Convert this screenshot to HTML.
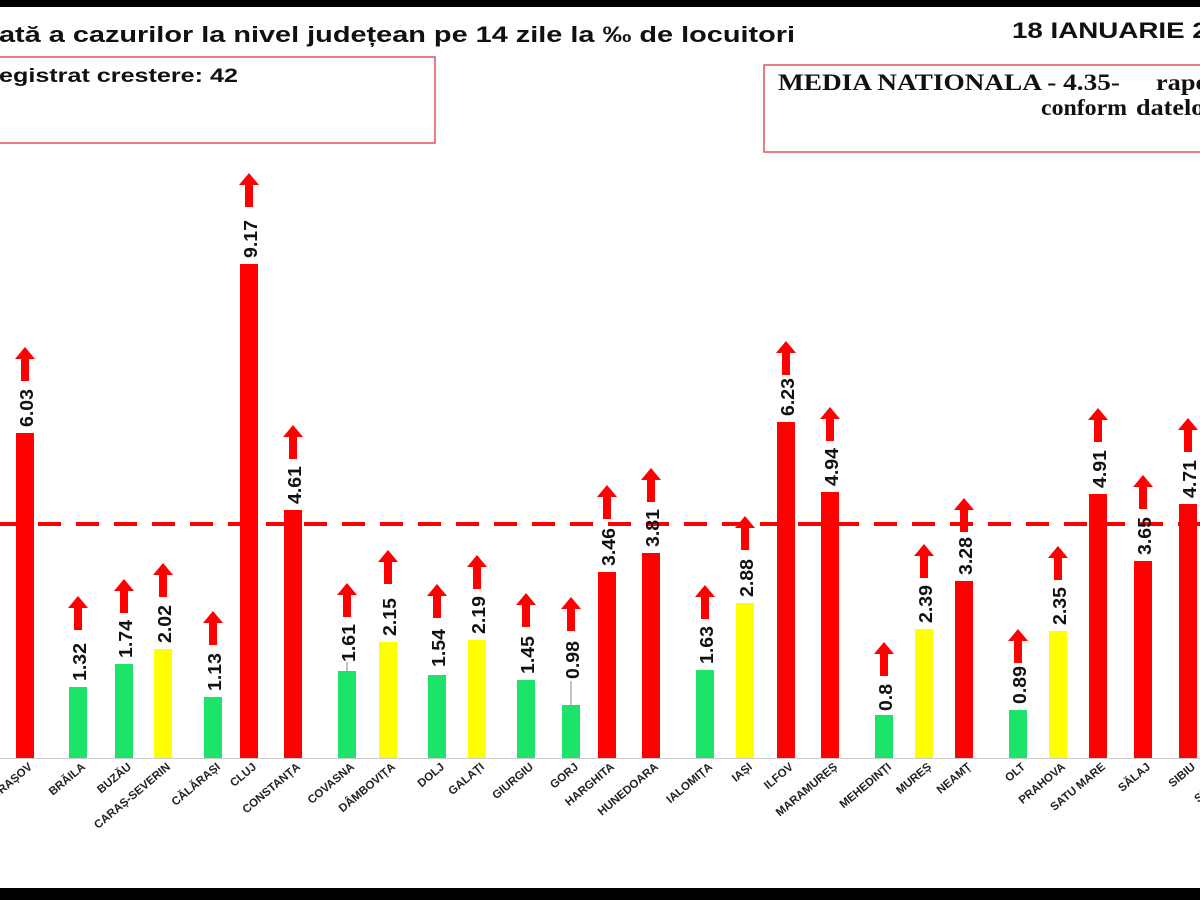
<!DOCTYPE html>
<html><head><meta charset="utf-8"><style>
html,body{margin:0;padding:0;background:#fff;width:1200px;height:900px;overflow:hidden}
svg{display:block}
.v{font-family:"Liberation Sans",sans-serif;font-size:18px;font-weight:bold;fill:#111}
.c{font-family:"Liberation Sans",sans-serif;font-size:11.5px;font-weight:bold;fill:#222}
</style></head><body>
<svg width="1200" height="900" viewBox="0 0 1200 900" xmlns="http://www.w3.org/2000/svg">
<defs><path id="ar" d="M-4,0 V-22 H-10 L0,-34 L10,-22 H4 V0 Z" fill="#f00"/></defs>
<rect x="0" y="0" width="1200" height="7" fill="#000"/>
<rect x="0" y="888" width="1200" height="12" fill="#000"/>
<text x="-1" y="42" font-family="Liberation Sans,sans-serif" font-weight="bold" font-size="22" fill="#111" textLength="796" lengthAdjust="spacingAndGlyphs">ată a cazurilor la nivel județean pe 14 zile la ‰ de locuitori</text>
<text x="1012" y="38" font-family="Liberation Sans,sans-serif" font-weight="bold" font-size="22" fill="#111" textLength="242" lengthAdjust="spacingAndGlyphs">18 IANUARIE 2021</text>
<rect x="-5" y="57" width="440" height="86" fill="none" stroke="#e05060" stroke-width="1.5"/>
<text x="-1" y="82" font-family="Liberation Sans,sans-serif" font-weight="bold" font-size="19" fill="#111" textLength="239" lengthAdjust="spacingAndGlyphs">egistrat crestere: 42</text>
<rect x="764" y="65" width="450" height="87" fill="none" stroke="#e05060" stroke-width="1.5"/>
<text x="778" y="90" font-family="Liberation Serif,serif" font-weight="bold" font-size="23" fill="#111" textLength="342" lengthAdjust="spacingAndGlyphs">MEDIA NATIONALA - 4.35-</text>
<text x="1156" y="90" font-family="Liberation Serif,serif" font-weight="bold" font-size="23" fill="#111" textLength="95" lengthAdjust="spacingAndGlyphs">raportat</text>
<text x="1041" y="115" font-family="Liberation Serif,serif" font-weight="bold" font-size="23" fill="#111" textLength="86" lengthAdjust="spacingAndGlyphs">conform</text>
<text x="1136" y="115" font-family="Liberation Serif,serif" font-weight="bold" font-size="23" fill="#111" textLength="80" lengthAdjust="spacingAndGlyphs">datelor</text>
<line x1="0" y1="758.5" x2="1200" y2="758.5" stroke="#ccc" stroke-width="1"/>

<g>
<rect x="16" y="433" width="18" height="325" fill="#f00"/>
<rect x="69" y="687" width="18" height="71" fill="#1de36a"/>
<rect x="115" y="664" width="18" height="94" fill="#1de36a"/>
<rect x="154" y="649" width="18" height="109" fill="#ff0"/>
<rect x="204" y="697" width="18" height="61" fill="#1de36a"/>
<rect x="240" y="264" width="18" height="494" fill="#f00"/>
<rect x="284" y="510" width="18" height="248" fill="#f00"/>
<rect x="338" y="671" width="18" height="87" fill="#1de36a"/>
<rect x="379" y="642" width="18" height="116" fill="#ff0"/>
<rect x="428" y="675" width="18" height="83" fill="#1de36a"/>
<rect x="468" y="640" width="18" height="118" fill="#ff0"/>
<rect x="517" y="680" width="18" height="78" fill="#1de36a"/>
<rect x="562" y="705" width="18" height="53" fill="#1de36a"/>
<rect x="598" y="572" width="18" height="186" fill="#f00"/>
<rect x="642" y="553" width="18" height="205" fill="#f00"/>
<rect x="696" y="670" width="18" height="88" fill="#1de36a"/>
<rect x="736" y="603" width="18" height="155" fill="#ff0"/>
<rect x="777" y="422" width="18" height="336" fill="#f00"/>
<rect x="821" y="492" width="18" height="266" fill="#f00"/>
<rect x="875" y="715" width="18" height="43" fill="#1de36a"/>
<rect x="915" y="629" width="18" height="129" fill="#ff0"/>
<rect x="955" y="581" width="18" height="177" fill="#f00"/>
<rect x="1009" y="710" width="18" height="48" fill="#1de36a"/>
<rect x="1049" y="631" width="18" height="127" fill="#ff0"/>
<rect x="1089" y="494" width="18" height="264" fill="#f00"/>
<rect x="1134" y="561" width="18" height="197" fill="#f00"/>
<rect x="1179" y="504" width="18" height="254" fill="#f00"/>
</g>

<line x1="0" y1="524" x2="1200" y2="524" stroke="#f00" stroke-width="4" stroke-dasharray="23 15"/>

<line x1="571" y1="705" x2="571" y2="681" stroke="#888" stroke-width="1"/>
<line x1="347" y1="671" x2="347" y2="662" stroke="#888" stroke-width="1"/>

<g class="v">
<text transform="translate(33,427) rotate(-90)" textLength="38" lengthAdjust="spacingAndGlyphs">6.03</text>
<text transform="translate(86,681) rotate(-90)" textLength="38" lengthAdjust="spacingAndGlyphs">1.32</text>
<text transform="translate(132,658) rotate(-90)" textLength="38" lengthAdjust="spacingAndGlyphs">1.74</text>
<text transform="translate(171,643) rotate(-90)" textLength="38" lengthAdjust="spacingAndGlyphs">2.02</text>
<text transform="translate(221,691) rotate(-90)" textLength="38" lengthAdjust="spacingAndGlyphs">1.13</text>
<text transform="translate(257,258) rotate(-90)" textLength="38" lengthAdjust="spacingAndGlyphs">9.17</text>
<text transform="translate(301,504) rotate(-90)" textLength="38" lengthAdjust="spacingAndGlyphs">4.61</text>
<text transform="translate(355,662) rotate(-90)" textLength="38" lengthAdjust="spacingAndGlyphs">1.61</text>
<text transform="translate(396,636) rotate(-90)" textLength="38" lengthAdjust="spacingAndGlyphs">2.15</text>
<text transform="translate(445,667) rotate(-90)" textLength="38" lengthAdjust="spacingAndGlyphs">1.54</text>
<text transform="translate(485,634) rotate(-90)" textLength="38" lengthAdjust="spacingAndGlyphs">2.19</text>
<text transform="translate(534,674) rotate(-90)" textLength="38" lengthAdjust="spacingAndGlyphs">1.45</text>
<text transform="translate(579,679) rotate(-90)" textLength="38" lengthAdjust="spacingAndGlyphs">0.98</text>
<text transform="translate(615,566) rotate(-90)" textLength="38" lengthAdjust="spacingAndGlyphs">3.46</text>
<text transform="translate(659,547) rotate(-90)" textLength="38" lengthAdjust="spacingAndGlyphs">3.81</text>
<text transform="translate(713,664) rotate(-90)" textLength="38" lengthAdjust="spacingAndGlyphs">1.63</text>
<text transform="translate(753,597) rotate(-90)" textLength="38" lengthAdjust="spacingAndGlyphs">2.88</text>
<text transform="translate(794,416) rotate(-90)" textLength="38" lengthAdjust="spacingAndGlyphs">6.23</text>
<text transform="translate(838,486) rotate(-90)" textLength="38" lengthAdjust="spacingAndGlyphs">4.94</text>
<text transform="translate(892,711) rotate(-90)" textLength="27" lengthAdjust="spacingAndGlyphs">0.8</text>
<text transform="translate(932,623) rotate(-90)" textLength="38" lengthAdjust="spacingAndGlyphs">2.39</text>
<text transform="translate(972,575) rotate(-90)" textLength="38" lengthAdjust="spacingAndGlyphs">3.28</text>
<text transform="translate(1026,704) rotate(-90)" textLength="38" lengthAdjust="spacingAndGlyphs">0.89</text>
<text transform="translate(1066,625) rotate(-90)" textLength="38" lengthAdjust="spacingAndGlyphs">2.35</text>
<text transform="translate(1106,488) rotate(-90)" textLength="38" lengthAdjust="spacingAndGlyphs">4.91</text>
<text transform="translate(1151,555) rotate(-90)" textLength="38" lengthAdjust="spacingAndGlyphs">3.65</text>
<text transform="translate(1196,498) rotate(-90)" textLength="38" lengthAdjust="spacingAndGlyphs">4.71</text>
</g>

<g>
<use href="#ar" x="25" y="381"/>
<use href="#ar" x="78" y="630"/>
<use href="#ar" x="124" y="613"/>
<use href="#ar" x="163" y="597"/>
<use href="#ar" x="213" y="645"/>
<use href="#ar" x="249" y="207"/>
<use href="#ar" x="293" y="459"/>
<use href="#ar" x="347" y="617"/>
<use href="#ar" x="388" y="584"/>
<use href="#ar" x="437" y="618"/>
<use href="#ar" x="477" y="589"/>
<use href="#ar" x="526" y="627"/>
<use href="#ar" x="571" y="631"/>
<use href="#ar" x="607" y="519"/>
<use href="#ar" x="651" y="502"/>
<use href="#ar" x="705" y="619"/>
<use href="#ar" x="745" y="550"/>
<use href="#ar" x="786" y="375"/>
<use href="#ar" x="830" y="441"/>
<use href="#ar" x="884" y="676"/>
<use href="#ar" x="924" y="578"/>
<use href="#ar" x="964" y="532"/>
<use href="#ar" x="1018" y="663"/>
<use href="#ar" x="1058" y="580"/>
<use href="#ar" x="1098" y="442"/>
<use href="#ar" x="1143" y="509"/>
<use href="#ar" x="1188" y="452"/>
</g>

<g class="c" text-anchor="end">
<text transform="translate(33,768) rotate(-40)">BRAȘOV</text>
<text transform="translate(86,768) rotate(-40)">BRĂILA</text>
<text transform="translate(132,768) rotate(-40)">BUZĂU</text>
<text transform="translate(171,768) rotate(-40)">CARAȘ-SEVERIN</text>
<text transform="translate(221,768) rotate(-40)">CĂLĂRAȘI</text>
<text transform="translate(257,768) rotate(-40)">CLUJ</text>
<text transform="translate(301,768) rotate(-40)">CONSTANȚA</text>
<text transform="translate(355,768) rotate(-40)">COVASNA</text>
<text transform="translate(396,768) rotate(-40)">DÂMBOVIȚA</text>
<text transform="translate(445,768) rotate(-40)">DOLJ</text>
<text transform="translate(485,768) rotate(-40)">GALAȚI</text>
<text transform="translate(534,768) rotate(-40)">GIURGIU</text>
<text transform="translate(579,768) rotate(-40)">GORJ</text>
<text transform="translate(615,768) rotate(-40)">HARGHITA</text>
<text transform="translate(659,768) rotate(-40)">HUNEDOARA</text>
<text transform="translate(713,768) rotate(-40)">IALOMIȚA</text>
<text transform="translate(753,768) rotate(-40)">IAȘI</text>
<text transform="translate(794,768) rotate(-40)">ILFOV</text>
<text transform="translate(838,768) rotate(-40)">MARAMUREȘ</text>
<text transform="translate(892,768) rotate(-40)">MEHEDINȚI</text>
<text transform="translate(932,768) rotate(-40)">MUREȘ</text>
<text transform="translate(972,768) rotate(-40)">NEAMȚ</text>
<text transform="translate(1026,768) rotate(-40)">OLT</text>
<text transform="translate(1066,768) rotate(-40)">PRAHOVA</text>
<text transform="translate(1106,768) rotate(-40)">SATU MARE</text>
<text transform="translate(1151,768) rotate(-40)">SĂLAJ</text>
<text transform="translate(1196,768) rotate(-40)">SIBIU</text>
<text transform="translate(1240,768) rotate(-40)">SUCEAVA</text>
</g>
</svg>
</body></html>
